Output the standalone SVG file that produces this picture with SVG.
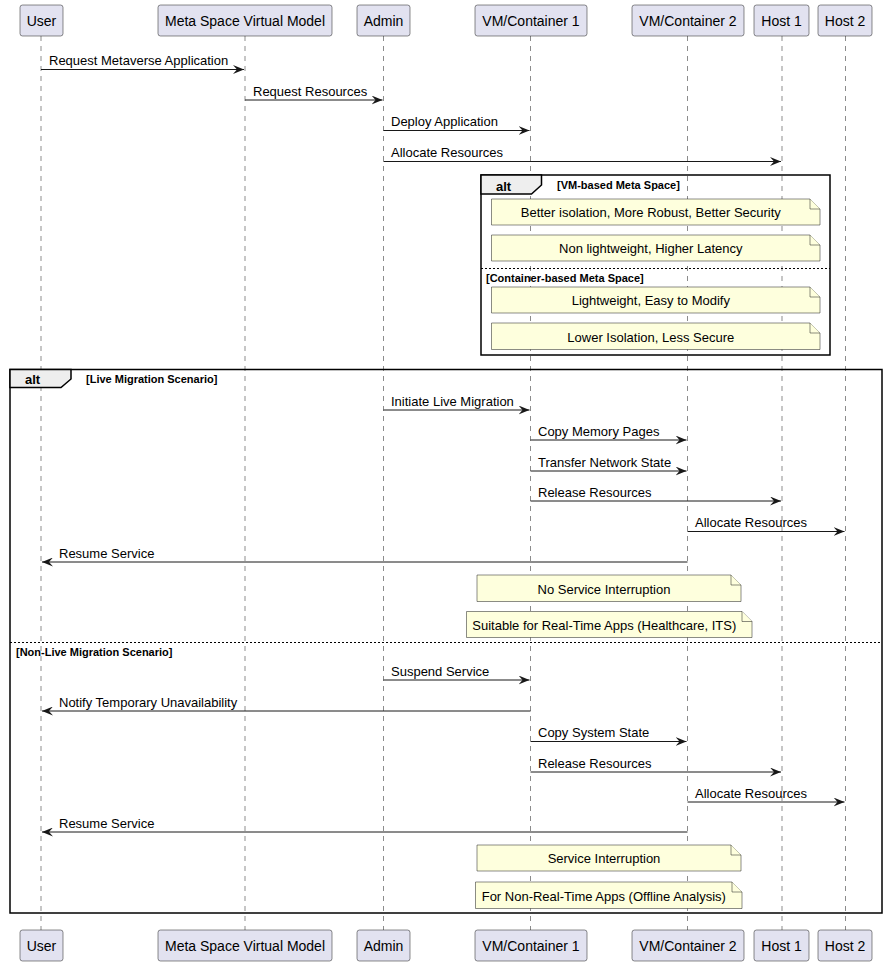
<svg xmlns="http://www.w3.org/2000/svg" width="888" height="966" viewBox="0 0 888 966">
<style>
text{font-family:"Liberation Sans",Arial,sans-serif;fill:#000}
.pbox{fill:#E2E2F0;stroke:#181818;stroke-width:0.5}
.pt{font-size:14px;text-anchor:middle}
.life{stroke:#181818;stroke-width:0.5;stroke-dasharray:5,5}
.msg{stroke:#181818;stroke-width:1;fill:none}
.mt{font-size:13px}
.note{fill:#FEFFDD;stroke:#181818;stroke-width:0.5}
.nt{font-size:13px;text-anchor:middle}
.frame{fill:none;stroke:#000;stroke-width:1.5}
.tab{fill:#EEEEEE;stroke:#000;stroke-width:1.5}
.al{font-size:13px;font-weight:bold}
.gd{font-size:11px;font-weight:bold}
.sep{stroke:#000;stroke-width:1;stroke-dasharray:2,2}
</style>
<defs>
<marker id="ah" viewBox="0 0 11 9" refX="11" refY="4.5" markerWidth="11" markerHeight="9" markerUnits="userSpaceOnUse" orient="auto">
<polygon points="0,0 11,4.5 0,9 4,4.5" fill="#181818"/>
</marker>
</defs>
<g id="lifelines">
<line class="life" x1="41" y1="36" x2="41" y2="930"/>
<line class="life" x1="245" y1="36" x2="245" y2="930"/>
<line class="life" x1="383.5" y1="36" x2="383.5" y2="930"/>
<line class="life" x1="530.5" y1="36" x2="530.5" y2="930"/>
<line class="life" x1="687.5" y1="36" x2="687.5" y2="930"/>
<line class="life" x1="782" y1="36" x2="782" y2="930"/>
<line class="life" x1="845.5" y1="36" x2="845.5" y2="930"/>
</g>
<g id="participant-user">
<rect class="pbox" x="20" y="5" width="43" height="31" rx="2.5"/><text class="pt" x="41.5" y="26">User</text>
<rect class="pbox" x="20" y="930" width="43" height="31" rx="2.5"/><text class="pt" x="41.5" y="951">User</text>
</g>
<g id="participant-msvm">
<rect class="pbox" x="158" y="5" width="174" height="31" rx="2.5"/><text class="pt" x="245" y="26">Meta Space Virtual Model</text>
<rect class="pbox" x="158" y="930" width="174" height="31" rx="2.5"/><text class="pt" x="245" y="951">Meta Space Virtual Model</text>
</g>
<g id="participant-admin">
<rect class="pbox" x="357" y="5" width="53" height="31" rx="2.5"/><text class="pt" x="383.5" y="26">Admin</text>
<rect class="pbox" x="357" y="930" width="53" height="31" rx="2.5"/><text class="pt" x="383.5" y="951">Admin</text>
</g>
<g id="participant-vm1">
<rect class="pbox" x="475" y="5" width="112" height="31" rx="2.5"/><text class="pt" x="531" y="26">VM/Container 1</text>
<rect class="pbox" x="475" y="930" width="112" height="31" rx="2.5"/><text class="pt" x="531" y="951">VM/Container 1</text>
</g>
<g id="participant-vm2">
<rect class="pbox" x="632" y="5" width="112" height="31" rx="2.5"/><text class="pt" x="688" y="26">VM/Container 2</text>
<rect class="pbox" x="632" y="930" width="112" height="31" rx="2.5"/><text class="pt" x="688" y="951">VM/Container 2</text>
</g>
<g id="participant-host1">
<rect class="pbox" x="754" y="5" width="55" height="31" rx="2.5"/><text class="pt" x="781.5" y="26">Host 1</text>
<rect class="pbox" x="754" y="930" width="55" height="31" rx="2.5"/><text class="pt" x="781.5" y="951">Host 1</text>
</g>
<g id="participant-host2">
<rect class="pbox" x="818" y="5" width="54" height="31" rx="2.5"/><text class="pt" x="845" y="26">Host 2</text>
<rect class="pbox" x="818" y="930" width="54" height="31" rx="2.5"/><text class="pt" x="845" y="951">Host 2</text>
</g>
<g id="frame-alt1">
<rect class="frame" x="481" y="175" width="349" height="180"/>
<path class="tab" d="M481,175 L541.5,175 L541.5,185 L531.5,194 L481,194 Z"/>
<text class="al" x="496" y="190.5">alt</text>
<text class="gd" x="557" y="189">[VM-based Meta Space]</text>
<line class="sep" x1="481" y1="268.5" x2="830" y2="268.5"/>
<text class="gd" x="486" y="281.5">[Container-based Meta Space]</text>
</g>
<g id="frame-alt2">
<rect class="frame" x="10" y="369.5" width="872" height="543.5"/>
<path class="tab" d="M10,369.5 L71,369.5 L71,379 L61,387.5 L10,387.5 Z"/>
<text class="al" x="25" y="384">alt</text>
<text class="gd" x="86" y="383">[Live Migration Scenario]</text>
<line class="sep" x1="10" y1="642.5" x2="882" y2="642.5"/>
<text class="gd" x="16" y="656">[Non-Live Migration Scenario]</text>
</g>
<g id="notes">
<g id="note1"><path class="note" d="M491.5,199 L810,199 L820,209 L820,225 L491.5,225 Z"/><path class="note" d="M810,199 L810,209 L820,209"/><text class="nt" x="650.8" y="217">Better isolation, More Robust, Better Security</text></g>
<g id="note2"><path class="note" d="M491.5,235 L810,235 L820,245 L820,261 L491.5,261 Z"/><path class="note" d="M810,235 L810,245 L820,245"/><text class="nt" x="650.8" y="253">Non lightweight, Higher Latency</text></g>
<g id="note3"><path class="note" d="M491.5,287 L810,287 L820,297 L820,313 L491.5,313 Z"/><path class="note" d="M810,287 L810,297 L820,297"/><text class="nt" x="650.8" y="305">Lightweight, Easy to Modify</text></g>
<g id="note4"><path class="note" d="M491.5,323 L810,323 L820,333 L820,349.5 L491.5,349.5 Z"/><path class="note" d="M810,323 L810,333 L820,333"/><text class="nt" x="650.8" y="341.5">Lower Isolation, Less Secure</text></g>
<g id="note5"><path class="note" d="M477,575 L731,575 L741,585 L741,601.5 L477,601.5 Z"/><path class="note" d="M731,575 L731,585 L741,585"/><text class="nt" x="604" y="593.5">No Service Interruption</text></g>
<g id="note6"><path class="note" d="M466.5,611.5 L742,611.5 L752,621.5 L752,637.5 L466.5,637.5 Z"/><path class="note" d="M742,611.5 L742,621.5 L752,621.5"/><text class="nt" x="604.3" y="629.5">Suitable for Real-Time Apps (Healthcare, ITS)</text></g>
<g id="note7"><path class="note" d="M477,845 L731,845 L741,855 L741,871 L477,871 Z"/><path class="note" d="M731,845 L731,855 L741,855"/><text class="nt" x="604" y="863">Service Interruption</text></g>
<g id="note8"><path class="note" d="M475.5,882 L732,882 L742,892 L742,908.5 L475.5,908.5 Z"/><path class="note" d="M732,882 L732,892 L742,892"/><text class="nt" x="603.8" y="900.5">For Non-Real-Time Apps (Offline Analysis)</text></g>
</g>
<g id="connectors">
<line class="msg" x1="41" y1="69.5" x2="244" y2="69.5" marker-end="url(#ah)"/><text class="mt" x="49" y="65">Request Metaverse Application</text>
<line class="msg" x1="245" y1="100" x2="382.5" y2="100" marker-end="url(#ah)"/><text class="mt" x="253" y="95.5">Request Resources</text>
<line class="msg" x1="383.5" y1="130.5" x2="529.5" y2="130.5" marker-end="url(#ah)"/><text class="mt" x="391" y="126">Deploy Application</text>
<line class="msg" x1="383.5" y1="161.5" x2="781" y2="161.5" marker-end="url(#ah)"/><text class="mt" x="391" y="157">Allocate Resources</text>
<line class="msg" x1="383.5" y1="410" x2="529.5" y2="410" marker-end="url(#ah)"/><text class="mt" x="391" y="405.5">Initiate Live Migration</text>
<line class="msg" x1="530.5" y1="440" x2="686.5" y2="440" marker-end="url(#ah)"/><text class="mt" x="538" y="435.5">Copy Memory Pages</text>
<line class="msg" x1="530.5" y1="471" x2="686.5" y2="471" marker-end="url(#ah)"/><text class="mt" x="538" y="466.5">Transfer Network State</text>
<line class="msg" x1="530.5" y1="501" x2="781" y2="501" marker-end="url(#ah)"/><text class="mt" x="538" y="496.5">Release Resources</text>
<line class="msg" x1="687.5" y1="531.5" x2="844.5" y2="531.5" marker-end="url(#ah)"/><text class="mt" x="695" y="527">Allocate Resources</text>
<line class="msg" x1="687.5" y1="562" x2="42" y2="562" marker-end="url(#ah)"/><text class="mt" x="59" y="557.5">Resume Service</text>
<line class="msg" x1="383.5" y1="680" x2="529.5" y2="680" marker-end="url(#ah)"/><text class="mt" x="391" y="675.5">Suspend Service</text>
<line class="msg" x1="530.5" y1="711" x2="42" y2="711" marker-end="url(#ah)"/><text class="mt" x="59" y="706.5">Notify Temporary Unavailability</text>
<line class="msg" x1="530.5" y1="741.5" x2="686.5" y2="741.5" marker-end="url(#ah)"/><text class="mt" x="538" y="737">Copy System State</text>
<line class="msg" x1="530.5" y1="772" x2="781" y2="772" marker-end="url(#ah)"/><text class="mt" x="538" y="767.5">Release Resources</text>
<line class="msg" x1="687.5" y1="802" x2="844.5" y2="802" marker-end="url(#ah)"/><text class="mt" x="695" y="797.5">Allocate Resources</text>
<line class="msg" x1="687.5" y1="832" x2="42" y2="832" marker-end="url(#ah)"/><text class="mt" x="59" y="827.5">Resume Service</text>
</g>
</svg>
